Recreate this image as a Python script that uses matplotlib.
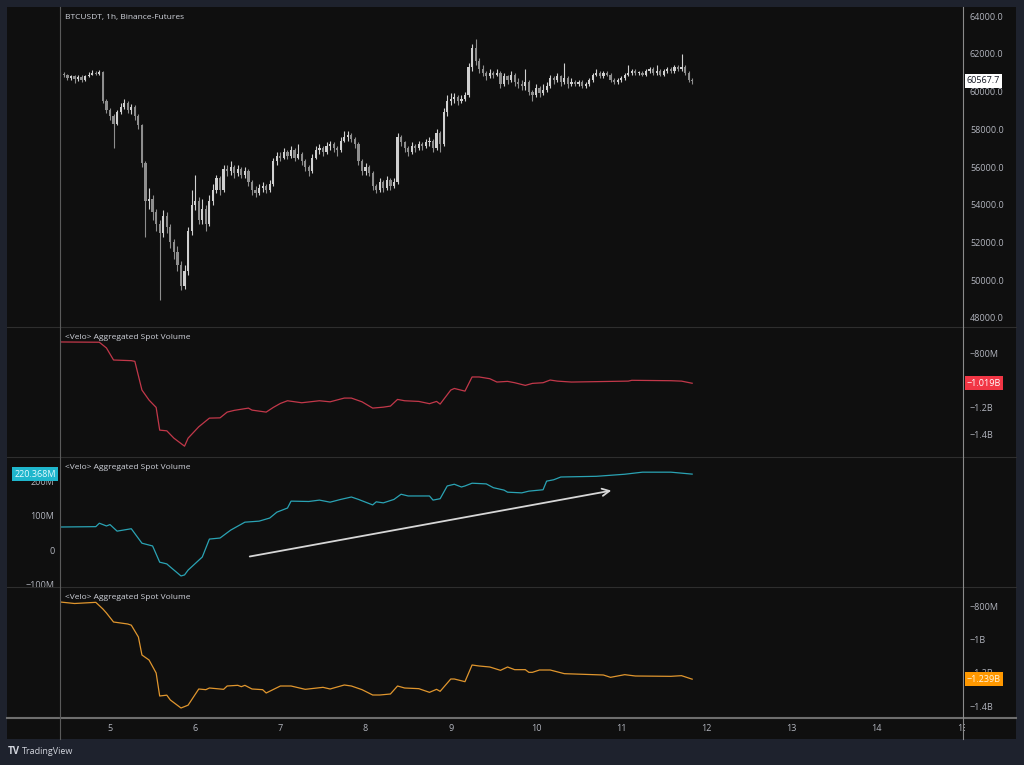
import numpy as np
import pandas as pd
import matplotlib
matplotlib.use("Agg")
import matplotlib.pyplot as plt
import matplotlib.dates as mdates
from matplotlib.lines import Line2D
from matplotlib.patches import Rectangle
from matplotlib.transforms import Bbox, TransformedBbox

plt.rcParams['font.family'] = ['Open Sans', 'DejaVu Sans']

# ---------------- data ----------------
start_time = "2024-08-04 10:00"   # first hourly candle

# BTCUSDT 1h closes / highs / lows (thousand USD)
close_k = [60.95, 60.85, 60.70, 60.80, 60.65, 60.75, 60.60, 60.80, 60.90, 61.00, 60.95, 61.05,
           59.50, 59.00, 58.70, 58.30, 58.90, 59.20, 59.40, 59.00, 59.20, 58.70, 58.20, 56.20,
           54.20, 54.30, 53.60, 53.00, 52.50, 53.40, 52.80, 52.00, 51.50, 50.80, 49.70, 50.50,
           52.60, 54.00, 54.20, 53.20, 53.80, 53.00, 54.20, 54.80, 55.40, 54.80, 55.90, 55.80,
           56.00, 55.70, 55.90, 55.60, 55.80, 55.20, 54.80, 54.60, 54.90, 55.00, 54.80, 55.10,
           56.30, 56.60, 56.50, 56.80, 56.60, 56.90, 56.50, 56.70, 56.30, 56.00, 55.80, 56.50,
           56.90, 57.00, 56.80, 57.10, 57.20, 57.00, 56.90, 57.40, 57.60, 57.70, 57.50, 57.20,
           56.30, 55.80, 56.00, 55.70, 55.00, 54.80, 55.20, 54.90, 55.30, 55.00, 55.20, 57.60,
           57.30, 57.00, 56.80, 57.10, 57.00, 57.20, 57.10, 57.30, 57.40, 57.00, 57.80, 57.20,
           58.90, 59.50, 59.60, 59.70, 59.50, 59.60, 59.80, 61.30, 62.30, 61.60, 61.20, 61.00,
           60.80, 61.00, 60.90, 61.00, 60.40, 60.80, 60.60, 60.90, 60.50, 60.40, 60.30, 60.50,
           60.00, 59.80, 60.20, 59.90, 60.10, 60.30, 60.70, 60.60, 60.80, 60.50, 60.70, 60.40,
           60.50, 60.40, 60.50, 60.30, 60.40, 60.60, 60.90, 61.00, 60.80, 61.00, 60.90, 60.60,
           60.50, 60.60, 60.70, 60.90, 61.00, 61.10, 61.00, 61.00, 60.90, 61.10, 61.20, 61.00,
           61.10, 60.90, 61.10, 61.20, 61.10, 61.30, 61.20, 61.30, 61.00, 60.60, 60.5677]
high_k = [61.05, 61.05, 60.95, 60.90, 60.90, 60.85, 60.85, 60.90, 61.05, 61.15, 61.10, 61.15,
          61.10, 59.60, 59.10, 58.80, 59.00, 59.40, 59.60, 59.50, 59.35, 59.30, 58.80, 58.30,
          56.30, 54.90, 54.50, 53.80, 53.20, 53.70, 53.60, 53.00, 52.20, 51.80, 51.00, 50.80,
          52.80, 54.80, 55.60, 54.40, 54.30, 54.00, 54.50, 55.10, 55.60, 55.50, 56.10, 56.10,
          56.30, 56.10, 56.10, 56.00, 56.00, 55.90, 55.30, 55.00, 55.10, 55.20, 55.10, 55.30,
          56.50, 56.80, 56.80, 57.00, 56.90, 57.10, 57.00, 57.20, 56.80, 56.40, 56.10, 56.70,
          57.10, 57.20, 57.10, 57.30, 57.40, 57.30, 57.10, 57.60, 57.90, 57.90, 57.80, 57.60,
          57.30, 56.40, 56.20, 56.10, 55.80, 55.10, 55.40, 55.30, 55.50, 55.40, 55.40, 57.80,
          57.70, 57.40, 57.10, 57.30, 57.20, 57.40, 57.30, 57.50, 57.60, 57.50, 58.00, 57.90,
          59.10, 59.80, 59.90, 59.90, 59.80, 59.80, 60.00, 61.50, 62.50, 62.80, 61.80, 61.40,
          61.10, 61.20, 61.10, 61.20, 61.10, 61.00, 60.90, 61.10, 61.00, 60.70, 60.60, 61.20,
          60.60, 60.10, 60.40, 60.30, 60.40, 60.50, 60.90, 60.80, 61.00, 60.90, 61.50, 60.80,
          60.70, 60.60, 60.60, 60.60, 60.50, 60.70, 61.00, 61.20, 61.10, 61.10, 61.10, 61.00,
          60.70, 60.70, 60.80, 61.00, 61.40, 61.20, 61.20, 61.10, 61.10, 61.20, 61.30, 61.30,
          61.40, 61.20, 61.20, 61.30, 61.30, 61.40, 61.40, 62.00, 61.40, 61.10, 60.70]
low_k = [60.80, 60.75, 60.60, 60.60, 60.45, 60.55, 60.50, 60.55, 60.75, 60.85, 60.85, 60.90,
         59.40, 58.85, 58.50, 57.00, 58.20, 58.80, 59.05, 58.85, 58.80, 58.50, 58.00, 56.00,
         52.30, 53.80, 53.20, 52.60, 48.95, 52.30, 52.50, 51.70, 51.10, 50.50, 49.50, 49.55,
         50.30, 52.40, 53.70, 53.00, 53.00, 52.60, 52.90, 54.00, 54.60, 54.50, 54.70, 55.50,
         55.60, 55.40, 55.50, 55.40, 55.40, 55.00, 54.50, 54.40, 54.50, 54.70, 54.60, 54.70,
         55.00, 56.10, 56.30, 56.40, 56.40, 56.50, 56.30, 56.40, 56.10, 55.80, 55.50, 55.70,
         56.40, 56.70, 56.60, 56.70, 56.90, 56.80, 56.60, 56.80, 57.30, 57.40, 57.30, 57.00,
         56.10, 55.60, 55.60, 55.50, 54.80, 54.60, 54.70, 54.70, 54.80, 54.80, 54.90, 55.10,
         57.10, 56.80, 56.60, 56.70, 56.80, 56.90, 56.90, 57.00, 57.10, 56.80, 56.90, 56.80,
         57.10, 58.70, 59.30, 59.40, 59.30, 59.40, 59.50, 59.70, 61.10, 61.40, 61.00, 60.80,
         60.60, 60.70, 60.70, 60.80, 60.20, 60.30, 60.40, 60.50, 60.30, 60.20, 60.10, 60.10,
         59.80, 59.50, 59.70, 59.70, 59.80, 60.00, 60.20, 60.40, 60.50, 60.30, 60.40, 60.20,
         60.30, 60.30, 60.30, 60.20, 60.20, 60.30, 60.50, 60.80, 60.70, 60.70, 60.80, 60.50,
         60.40, 60.40, 60.50, 60.60, 60.80, 60.90, 60.90, 60.90, 60.80, 60.80, 61.00, 60.90,
         60.90, 60.80, 60.80, 61.00, 61.00, 61.00, 61.10, 61.10, 60.90, 60.50, 60.40]
first_open_k = 60.90

# <Velo> Aggregated Spot Volume panels (hour offsets from start, values in millions)
red_hours = [0, 11, 13, 15, 20, 21, 23, 25, 27, 28, 30, 32, 35, 36, 39, 42, 45, 47, 49, 53, 54,
             58, 60, 62, 64, 68, 73, 76, 80, 82, 85, 88, 91, 93, 95, 97, 101, 104, 106, 107, 110,
             111, 114, 116, 118, 121, 123, 126, 128, 131, 133, 136, 138, 140, 144, 160, 161, 172,
             175, 178]
red_vals = [-710, -712, -755, -845, -850, -855, -1070, -1145, -1200, -1370, -1375, -1430, -1490,
            -1430, -1345, -1280, -1278, -1235, -1222, -1205, -1220, -1235, -1200, -1170, -1150,
            -1165, -1150, -1158, -1130, -1130, -1158, -1205, -1198, -1190, -1140, -1150, -1155,
            -1172, -1155, -1175, -1070, -1058, -1078, -972, -972, -985, -1010, -1005, -1015,
            -1035, -1020, -1015, -995, -1003, -1010, -1003, -997, -1000, -1003, -1019]

cyan_hours = [0, 10, 11, 13, 14, 16, 20, 23, 26, 28, 30, 31, 34, 35, 36, 40, 42, 45, 48, 52, 56,
              59, 61, 64, 65, 70, 73, 76, 79, 82, 84, 88, 89, 91, 94, 96, 98, 104, 105, 107, 109,
              111, 113, 114, 116, 120, 122, 125, 126, 130, 132, 136, 137, 139, 141, 151, 159, 164,
              172, 178]
cyan_vals = [67, 68, 78, 70, 74, 55, 62, 20, 12, -35, -40, -49, -75, -72, -58, -20, 32, 35, 58,
             81, 84, 93, 110, 122, 142, 141, 145, 139, 147, 154, 147, 131, 140, 137, 147, 162, 157,
             157, 145, 149, 186, 191, 183, 186, 194, 192, 181, 174, 168, 166, 171, 175, 200, 204,
             212, 214, 220, 226, 226, 220.368]

orange_hours = [0, 4, 10, 12, 13, 15, 19, 20, 22, 23, 25, 27, 28, 30, 31, 34, 36, 39, 41, 42, 46,
                47, 50, 51, 52, 54, 57, 58, 62, 65, 69, 74, 76, 80, 82, 85, 88, 90, 93, 95, 97,
                101, 104, 106, 107, 110, 111, 114, 116, 118, 121, 124, 126, 128, 131, 132, 133,
                135, 138, 142, 153, 155, 159, 162, 172, 175, 178]
orange_vals = [-776, -785, -778, -818, -842, -896, -908, -915, -986, -1094, -1124, -1202, -1340,
               -1335, -1364, -1412, -1395, -1298, -1302, -1292, -1300, -1280, -1276, -1284, -1276,
               -1298, -1302, -1322, -1280, -1280, -1300, -1288, -1298, -1274, -1280, -1302, -1334,
               -1334, -1328, -1280, -1292, -1296, -1318, -1300, -1312, -1238, -1238, -1254, -1154,
               -1160, -1166, -1186, -1166, -1182, -1182, -1198, -1198, -1184, -1184, -1206, -1214,
               -1228, -1212, -1220, -1222, -1218, -1239]

# axis tick values / labels (the -1B label of the red pane sits under its value box)
price_ticks = [48000, 50000, 52000, 54000, 56000, 58000, 60000, 62000, 64000]
red_ticks = [-800, -1200, -1400]
red_labels = ["\u2212800M", "\u22121.2B", "\u22121.4B"]
cyan_ticks = [-100, 0, 100, 200]
cyan_labels = ["\u2212100M", "0", "100M", "200M"]
orange_ticks = [-800, -1000, -1200, -1400]
orange_labels = ["\u2212800M", "\u22121B", "\u22121.2B", "\u22121.4B"]
day_ticks = [5, 6, 7, 8, 9, 10, 11, 12, 13, 14, 15]

title_main = "BTCUSDT, 1h, Binance-Futures"
title_ind = "<Velo> Aggregated Spot Volume"

# ---------------- figure ----------------
W, H = 1024, 765
fig = plt.figure(figsize=(W / 100, H / 100), dpi=100, facecolor="#1e222d")

BG = "#0f0f0f"
TXT = "#b2b5be"
TITLE = "#d1d4dc"
FS_AX = 6.5
FS_TITLE = 6.0
fig.add_artist(Rectangle((7 / W, 1 - 739 / H), (1016 - 7) / W, (739 - 7) / H,
                         transform=fig.transFigure, facecolor=BG, edgecolor="none", zorder=-10))


def px_axes(x0, y0, x1, y1):
    return fig.add_axes([x0 / W, 1 - y1 / H, (x1 - x0) / W, (y1 - y0) / H])


t0 = pd.Timestamp(start_time)
n = len(close_k)
times = pd.date_range(t0, periods=n, freq="h")
xt = mdates.date2num(times)
hour = 1 / 24.0
x_left = mdates.date2num(t0) - 0.085 * hour
x_right = mdates.date2num(t0) + 254.3 * hour

opens = np.array([first_open_k] + close_k[:-1]) * 1000
closes = np.array(close_k) * 1000
highs = np.array(high_k) * 1000
lows = np.array(low_k) * 1000


def style_pane(ax):
    ax.set_facecolor("none")
    for s in ax.spines.values():
        s.set_visible(False)
    ax.set_xlim(x_left, x_right)
    ax.set_xticks([])
    ax.tick_params(axis="y", length=0, labelsize=FS_AX, labelcolor=TXT)


# price pane
ax1 = px_axes(60, 7, 963, 327)
style_pane(ax1)
up = closes >= opens
col_up, col_dn = "#d0d0d0", "#8e8e8e"
colors = np.where(up, col_up, col_dn)
ax1.vlines(xt, lows, highs, colors=colors, lw=0.8)
body_bottom = np.minimum(opens, closes)
body_h = np.maximum(np.abs(closes - opens), 40)
ax1.bar(xt, body_h, bottom=body_bottom, width=0.62 * hour, color=colors, linewidth=0)
ax1.set_ylim(47523, 64477)
ax1.yaxis.tick_right()
ax1.set_yticks(price_ticks)
ax1.set_yticklabels([f"{v:.1f}" for v in price_ticks])
ax1.tick_params(axis="y", pad=5)
ax1.annotate(title_main, xy=(0, 1), xycoords="axes fraction", xytext=(3.6, -7.3),
             textcoords="offset points", fontsize=FS_TITLE, color=TITLE, va="center", ha="left")
ax1.annotate(f"{closes[-1]:.1f}", xy=(1, closes[-1]), xycoords=("axes fraction", "data"),
             xytext=(2.8, 0), textcoords="offset points", fontsize=FS_AX, color="#131722",
             va="center", ha="left", annotation_clip=False,
             bbox=dict(boxstyle="square,pad=0.25", fc="#ffffff", ec="none"))


def line_pane(y0, y1, hours, vals, color, ylim):
    ax = px_axes(60, y0, 963, y1)
    style_pane(ax)
    xs = mdates.date2num(t0 + pd.to_timedelta(hours, unit="h"))
    ax.plot(xs, vals, color=color, lw=0.9)
    ax.set_ylim(*ylim)
    ax.annotate(title_ind, xy=(0, 1), xycoords="axes fraction", xytext=(3.6, -7.5),
                textcoords="offset points", fontsize=FS_TITLE, color=TITLE, va="center", ha="left")
    return ax


RED, CYAN, ORANGE = "#c2384a", "#2aa3b4", "#e0962e"

ax2 = line_pane(327, 457, red_hours, red_vals, RED, (-1571, -598))
ax2.yaxis.tick_right()
ax2.set_yticks(red_ticks)
ax2.set_yticklabels(red_labels)
ax2.tick_params(axis="y", pad=5)
ax2.annotate("\u22121.019B", xy=(1, red_vals[-1]), xycoords=("axes fraction", "data"),
             xytext=(2.8, 0), textcoords="offset points", fontsize=FS_AX, color="#ffffff",
             va="center", ha="left", annotation_clip=False,
             bbox=dict(boxstyle="square,pad=0.25", fc="#f23645", ec="none"))

ax3 = line_pane(457, 587, cyan_hours, cyan_vals, CYAN, (-107, 270))
ax3.yaxis.tick_left()
ax3.set_yticks(cyan_ticks)
ax3.set_yticklabels(cyan_labels)
ax3.tick_params(axis="y", pad=4)
ax3.annotate("220.368M", xy=(0, cyan_vals[-1]), xycoords=("axes fraction", "data"),
             xytext=(-3, 0), textcoords="offset points", fontsize=FS_AX, color="#e6fbff",
             va="center", ha="right", annotation_clip=False,
             bbox=dict(boxstyle="square,pad=0.25", fc="#1fb6cc", ec="none"))
arrow_tail = (52.6, -20)
arrow_head = (156.0, 174)
ax3.annotate("", xy=(mdates.date2num(t0 + pd.Timedelta(hours=arrow_head[0])), arrow_head[1]),
             xytext=(mdates.date2num(t0 + pd.Timedelta(hours=arrow_tail[0])), arrow_tail[1]),
             arrowprops=dict(arrowstyle="->", color="#d6d6d6", lw=1.3, mutation_scale=13))

ax4 = line_pane(587, 717, orange_hours, orange_vals, ORANGE, (-1466, -686))
ax4.yaxis.tick_right()
ax4.set_yticks(orange_ticks)
ax4.set_yticklabels(orange_labels)
ax4.tick_params(axis="y", pad=5)
ax4.annotate("\u22121.239B", xy=(1, orange_vals[-1]), xycoords=("axes fraction", "data"),
             xytext=(2.8, 0), textcoords="offset points", fontsize=FS_AX, color="#fff4e0",
             va="center", ha="left", annotation_clip=False,
             bbox=dict(boxstyle="square,pad=0.25", fc="#ff9800", ec="none"))

# time axis band
axt = px_axes(60, 718, 963, 739)
axt.set_facecolor("none")
for s in axt.spines.values():
    s.set_visible(False)
axt.set_xlim(x_left, x_right)
axt.set_ylim(0, 1)
axt.set_xticks([])
axt.set_yticks([])
clip = TransformedBbox(Bbox([[60 / W, 0], [964.5 / W, 1]]), fig.transFigure)
for d in day_ticks:
    xd = mdates.date2num(pd.Timestamp(year=t0.year, month=t0.month, day=d))
    t = axt.text(xd, 0.5, str(d), ha="center", va="center", fontsize=FS_AX, color=TXT)
    t.set_clip_box(clip)
    t.set_clip_on(True)

# separators
def hline(y, color, lw):
    fig.add_artist(Line2D([7 / W, 1016 / W], [1 - y / H, 1 - y / H], transform=fig.transFigure,
                          color=color, lw=lw, zorder=5))


def vline(x, color, lw):
    fig.add_artist(Line2D([x / W, x / W], [1 - 7 / H, 1 - 739 / H], transform=fig.transFigure,
                          color=color, lw=lw, zorder=5))


for yy in (327, 457, 587):
    hline(yy, "#2e2e2e", 0.8)
hline(718, "#6e6e6e", 1.5)
vline(60, "#5a5a5a", 0.8)
vline(963, "#8a8a8a", 0.8)

# TradingView footer
fig.text(8 / W, 1 - 752 / H, "TV", fontsize=7, fontweight="bold", color=TITLE,
         va="center", ha="left")
fig.text(22 / W, 1 - 752 / H, "TradingView", fontsize=6.5, color=TITLE, va="center", ha="left")

fig.savefig("out.png", dpi=100, facecolor=fig.get_facecolor())
